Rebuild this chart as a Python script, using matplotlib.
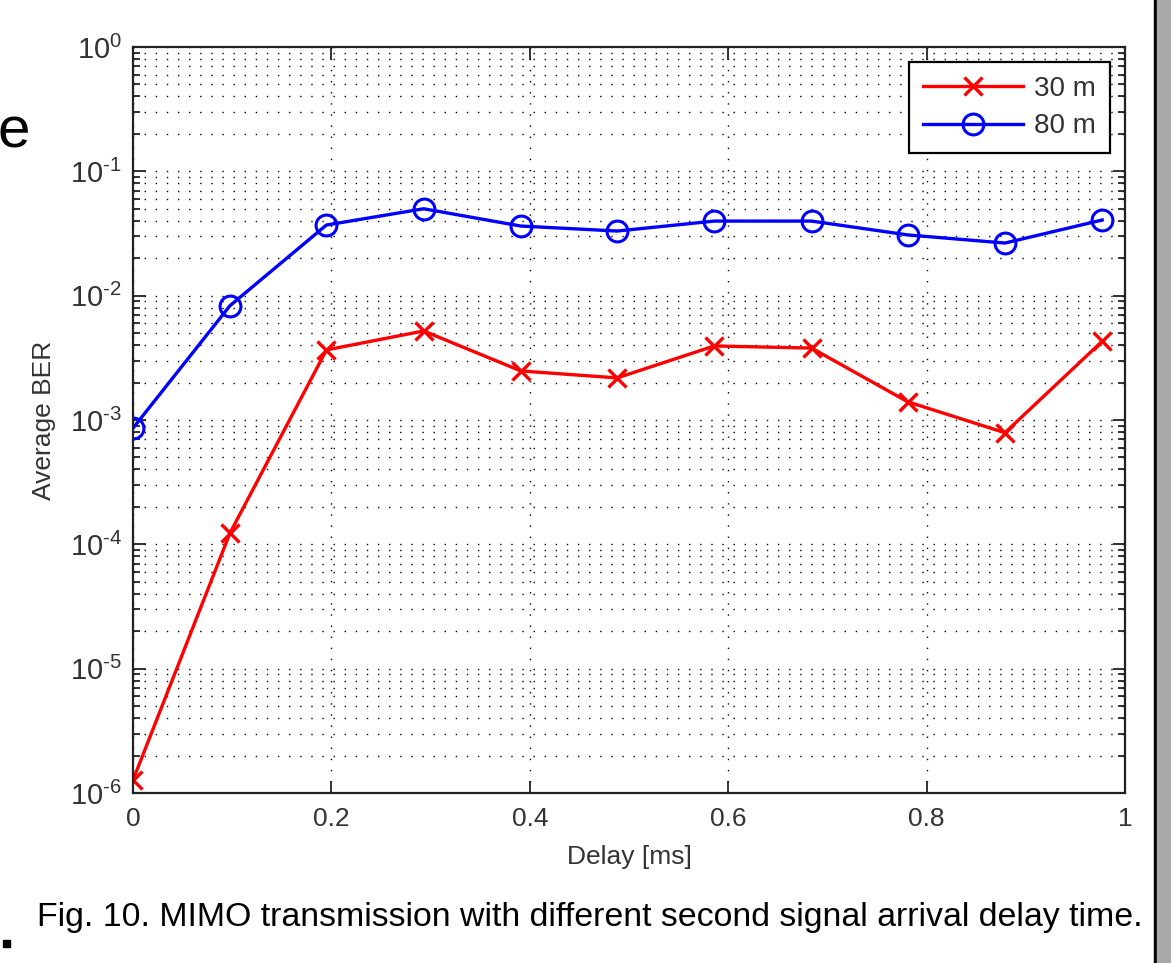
import numpy as np
import matplotlib
matplotlib.use('Agg')
import matplotlib.pyplot as plt
from matplotlib.patches import Rectangle
from matplotlib.ticker import LogLocator, FixedLocator, NullLocator

plt.rcParams['font.family'] = ['Liberation Sans', 'DejaVu Sans']
plt.rcParams['mathtext.fontset'] = 'custom'
plt.rcParams['mathtext.rm'] = 'Liberation Sans'

# data
delay = [0, 0.0977, 0.195, 0.293, 0.391, 0.488, 0.586, 0.684, 0.781, 0.879, 0.977]
ber_30m = [1.27e-6, 1.23e-4, 3.66e-3, 5.2e-3, 2.48e-3, 2.18e-3, 3.94e-3, 3.79e-3, 1.40e-3, 7.9e-4, 4.3e-3]
ber_80m = [8.6e-4, 8.3e-3, 3.7e-2, 5.0e-2, 3.63e-2, 3.31e-2, 3.98e-2, 3.98e-2, 3.08e-2, 2.65e-2, 4.06e-2]
labels = ['30 m', '80 m']
xticks = [0, 0.2, 0.4, 0.6, 0.8, 1]
ydecades = [-6, -5, -4, -3, -2, -1, 0]
caption = 'Fig. 10. MIMO transmission with different second signal arrival delay time.'

fig = plt.figure(figsize=(11.71, 9.63), dpi=100)
ax = fig.add_axes([133/1171, 1-793/963, (1125-133)/1171, (793-47)/963])

ax.plot(delay, ber_30m, color='red', lw=2.4, marker='x', ms=13, mew=2.4, label=labels[0])
ax.plot(delay, ber_80m, color='blue', lw=2.4, marker='o', ms=15, mew=2.2, mfc='none', label=labels[1])

ax.set_yscale('log')
ax.set_ylim(1e-6, 1)
ax.set_xlim(0, 1)
ax.xaxis.set_major_locator(FixedLocator(xticks))
ax.xaxis.set_minor_locator(NullLocator())
ax.yaxis.set_minor_locator(LogLocator(base=10, subs=np.arange(2, 10), numticks=20))
ax.set_xticklabels(['0', '0.2', '0.4', '0.6', '0.8', '1'])
ax.set_yticks([10.0**k for k in ydecades])
ax.set_yticklabels([r'$\mathregular{10^{%s}}$' % str(k).replace('-', '\u2010') for k in ydecades])

ax.grid(True, which='major', color='black', ls=(0, (1, 7)), lw=1.0)
ax.grid(True, which='minor', axis='y', color='black', ls=(0, (1, 7)), lw=1.0)

ax.tick_params(which='both', direction='in', top=True, right=True, colors='#222222', labelcolor='#333333')
ax.tick_params(which='major', length=9, width=1.3, pad=10)
ax.tick_params(axis='y', which='major', labelsize=21, pad=8)
ax.tick_params(axis='x', which='major', labelsize=19)
ax.tick_params(which='minor', length=5, width=1.3)
for s in ax.spines.values():
    s.set_color('#222222')
    s.set_linewidth(1.6)

ax.set_xlabel('Delay [ms]', fontsize=19, color='#333333', labelpad=10)
ax.set_ylabel('Average BER', fontsize=19, color='#333333', labelpad=10)

leg = ax.legend(loc='upper right', fontsize=20, fancybox=False, framealpha=1,
                edgecolor='black', borderaxespad=0.55, handlelength=3.6,
                labelspacing=0.4, borderpad=0.5, handletextpad=0.4)
leg.get_frame().set_linewidth(1.6)
for t in leg.get_texts():
    t.set_color('#333333')

# bits of the surrounding page
fig.text(-2/1171, 1-133/963, 'e', fontsize=42, va='center', ha='left', color='black')
fig.patches.append(Rectangle((3/1171, 1-947/963), 7/1171, 7/963, transform=fig.transFigure, color='black'))
fig.text(1143/1171, 1-917/963, caption, fontsize=24.4, ha='right', va='center', color='black')
fig.patches.append(Rectangle((1154/1171, 0), 2.5/1171, 1, transform=fig.transFigure, color='black', zorder=5))
fig.patches.append(Rectangle((1156.5/1171, 0), 15/1171, 1, transform=fig.transFigure, color='#a9a9a9', zorder=5))

fig.savefig('out.png', dpi=100)
